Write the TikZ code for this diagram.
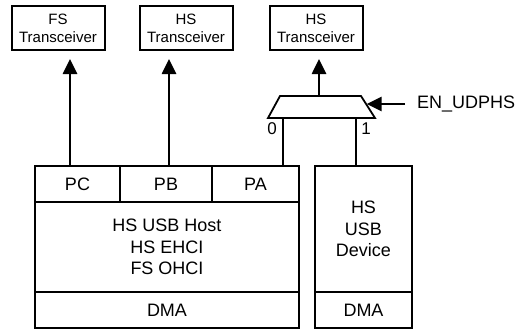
\documentclass[tikz,border=0pt]{standalone}
\usepackage{fontspec}
\setmainfont{Liberation Sans}
\usetikzlibrary{arrows.meta}

\tikzset{
  blk/.style={draw, line width=1.8pt, inner sep=0pt, align=center,
    font=\fontsize{18}{21.5}\selectfont},
  xcvr/.style={draw, line width=2pt, minimum width=93pt, minimum height=44pt,
    inner sep=0pt, align=center, font=\fontsize{15}{18}\selectfont},
  bus/.style={line width=2.6pt, -{Triangle[length=15pt,width=14pt]}, shorten >=8pt},
  sel/.style={line width=1.4pt},
  lbl/.style={inner sep=0pt, font=\fontsize{17}{20}\selectfont},
}

\begin{document}
\begin{tikzpicture}[x=1pt,y=-1pt]

\useasboundingbox (0,0) rectangle (525,330);

% transceivers
\node[xcvr] (fs) at (58,28) {FS\\Transceiver};
\node[xcvr] (hsa) at (186,28) {HS\\Transceiver};
\node[xcvr] (hsb) at (316,28) {HS\\Transceiver};

% host block
\node[blk, minimum width=85pt, minimum height=36pt] (pc) at (77.5,184) {PC};
\node[blk, minimum width=92pt, minimum height=36pt] (pb) at (166,184) {PB};
\node[blk, minimum width=87pt, minimum height=36pt] (pa) at (255.5,184) {PA};
\node[blk, minimum width=264pt, minimum height=90pt] (host) at (167,247) {HS USB Host\\HS EHCI\\FS OHCI};
\node[blk, minimum width=264pt, minimum height=36pt] (hdma) at (167,310) {DMA};

% device block
\node[blk, minimum width=97pt, minimum height=126pt] (dev) at (363.5,229) {HS\\USB\\Device};
\node[blk, minimum width=97pt, minimum height=36pt] (ddma) at (363.5,310) {DMA};

% mux
\draw[line width=1.8pt, line join=miter] (268,118) -- (280,96) -- (361,96) -- (375,118) -- cycle;
\coordinate (muxtop) at (319,96);
\coordinate (muxedge) at (366.7,104);
\coordinate (in0) at (283,118);
\coordinate (in1) at (356,118);

\node[lbl] (l0) at (272,129) {0};
\node[lbl] (l1) at (366,129) {1};

\node[lbl, anchor=west, font=\fontsize{18}{21}\selectfont] (en) at (417,104) {EN\_UDPHS};

\coordinate (fsx) at (70,0);
\coordinate (pbx) at (169,0);

\draw[bus] (pc.north -| fsx) -- (fs.south -| fsx);
\draw[bus] (pb.north -| pbx) -- (hsa.south -| pbx);
\draw[bus] (muxtop) -- (muxtop |- hsb.south);

\draw[sel] (in0) -- (in0 |- pa.north);
\draw[sel] (in1) -- (in1 |- dev.north);

\draw[bus, shorten >=0pt, shorten <=12pt] (en.west) -- (muxedge);

\end{tikzpicture}
\end{document}
